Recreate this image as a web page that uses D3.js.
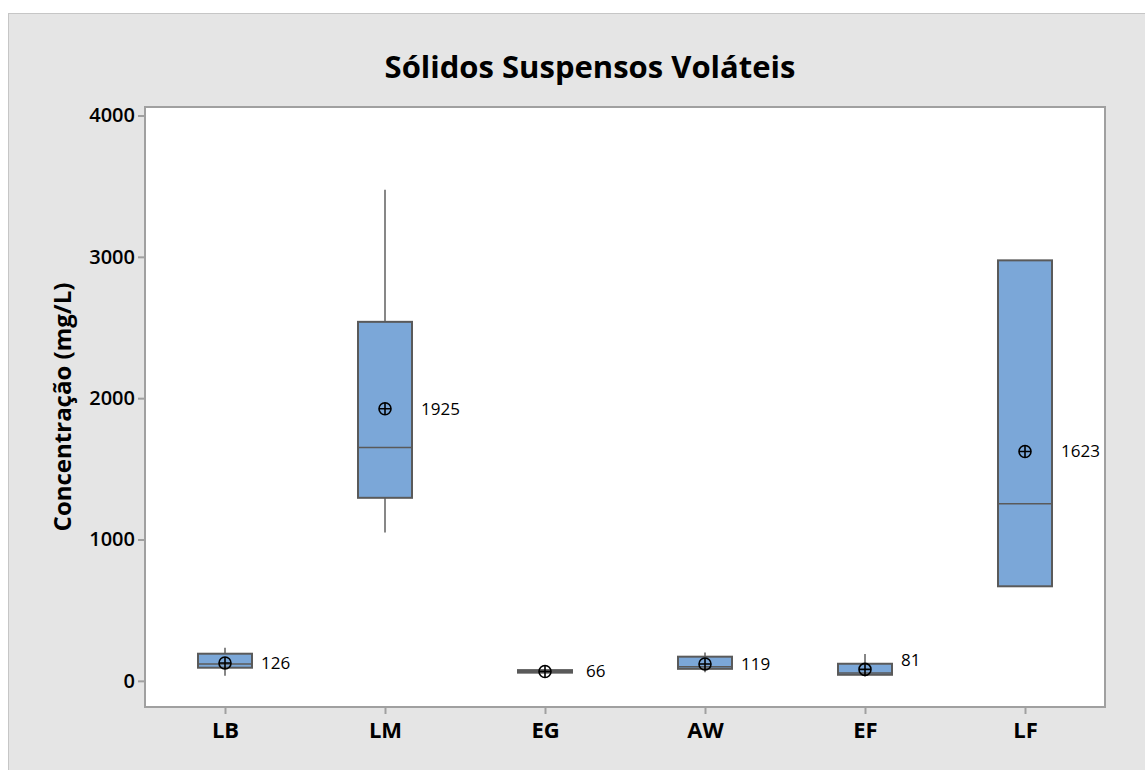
<!DOCTYPE html>
<html lang="pt">
<head>
  <meta charset="UTF-8">
  <title>Sólidos Suspensos Voláteis</title>
  <script src="https://d3js.org/d3.v7.min.js"></script>
  <style>
    body { margin: 0; background: #fff; }
    svg { display: block; font-family: "Open Sans", "Noto Sans", sans-serif; }
  </style>
</head>
<body>
  <svg width="1145" height="770"></svg>
  <script>
    // data
    const categories = ["LB", "LM", "EG", "AW", "EF", "LF"];
    const whiskerLow = [36, 1050, 58, 60, 30, 669];
    const q1 = [93, 1295, 58, 85, 43, 669];
    const medians = [120, 1651, 66, 100, 55, 1253];
    const q3 = [192, 2540, 76, 171, 121, 2975];
    const whiskerHigh = [235, 3475, 76, 200, 190, 2975];
    const means = [126, 1925, 66, 119, 81, 1623];
    const yTicks = [0, 1000, 2000, 3000, 4000];

    const boxes = categories.map((c, i) => ({
      cat: c, lo: whiskerLow[i], q1: q1[i], med: medians[i],
      q3: q3[i], hi: whiskerHigh[i], mean: means[i]
    }));

    const svg = d3.select("svg");
    const plot = { left: 145, right: 1105, top: 107, bottom: 707 };

    svg.append("rect")
      .attr("x", 8.5).attr("y", 13.5)
      .attr("width", 1145).attr("height", 770)
      .attr("fill", "#e5e5e5").attr("stroke", "#c6c6c6");

    svg.append("rect")
      .attr("x", plot.left).attr("y", plot.top)
      .attr("width", plot.right - plot.left).attr("height", plot.bottom - plot.top)
      .attr("fill", "#fff");

    const x = d3.scalePoint()
      .domain(categories)
      .range([plot.left, plot.right])
      .padding(0.5);

    const y = d3.scaleLinear()
      .domain([-185, 4060])
      .range([plot.bottom, plot.top]);

    const boxW = 54;

    // axes
    const yAxis = svg.append("g")
      .attr("transform", `translate(${plot.left},0)`)
      .call(d3.axisLeft(y).tickValues(yTicks).tickSize(7).tickPadding(3).tickFormat(d3.format("d")));
    const xAxis = svg.append("g")
      .attr("transform", `translate(0,${plot.bottom})`)
      .call(d3.axisBottom(x).tickSize(7).tickPadding(6));

    [yAxis, xAxis].forEach(a => {
      a.attr("font-family", null).attr("font-size", null);
      a.select(".domain").remove();
      a.selectAll(".tick line").attr("stroke", "#a0a0a0").attr("stroke-width", 2);
      a.selectAll(".tick text").attr("fill", "#000");
    });
    yAxis.selectAll(".tick text").attr("font-size", 20).attr("font-weight", 600);
    xAxis.selectAll(".tick text").attr("font-size", 22).attr("font-weight", 700).attr("dy", "0.8em");

    // plot frame
    svg.append("rect")
      .attr("x", plot.left).attr("y", plot.top)
      .attr("width", plot.right - plot.left).attr("height", plot.bottom - plot.top)
      .attr("fill", "none").attr("stroke", "#a0a0a0").attr("stroke-width", 2);

    const g = svg.append("g").selectAll("g")
      .data(boxes)
      .join("g")
      .attr("transform", d => `translate(${x(d.cat)},0)`);

    // whiskers
    g.append("line")
      .attr("y1", d => y(d.hi)).attr("y2", d => y(d.q3))
      .attr("stroke", "#5f5f5f").attr("stroke-width", 1.5);
    g.append("line")
      .attr("y1", d => y(d.q1)).attr("y2", d => y(d.lo))
      .attr("stroke", "#5f5f5f").attr("stroke-width", 1.5);

    // boxes
    g.append("rect")
      .attr("x", -boxW / 2)
      .attr("width", boxW)
      .attr("y", d => y(d.q3))
      .attr("height", d => Math.max(y(d.q1) - y(d.q3), 0))
      .attr("fill", "#7ba7d8")
      .attr("stroke", "#5a5a5a")
      .attr("stroke-width", 2);

    g.append("line")
      .attr("x1", -boxW / 2).attr("x2", boxW / 2)
      .attr("y1", d => y(d.med)).attr("y2", d => y(d.med))
      .attr("stroke", "#5a5a5a").attr("stroke-width", 1.5);

    // mean symbols
    const m = g.append("g").attr("transform", d => `translate(0,${y(d.mean)})`);
    m.append("circle").attr("r", 6)
      .attr("fill", "none").attr("stroke", "#000").attr("stroke-width", 1.6);
    m.append("path").attr("d", "M-6,0H6M0,-6V6")
      .attr("stroke", "#000").attr("stroke-width", 1.6);

    // mean labels
    const labelDx = { EG: 14 };
    const labelDy = { EF: -9 };
    g.append("text")
      .attr("x", d => boxW / 2 + (labelDx[d.cat] || 9))
      .attr("y", d => y(d.mean) + (labelDy[d.cat] || 0))
      .attr("dy", "0.35em")
      .attr("font-size", 17)
      .attr("fill", "#000")
      .text(d => d.mean);

    // titles
    svg.append("text")
      .attr("x", 590)
      .attr("y", 78)
      .attr("text-anchor", "middle")
      .attr("font-size", 31)
      .attr("font-weight", 700)
      .text("Sólidos Suspensos Voláteis");

    svg.append("text")
      .attr("transform", `translate(71,${(plot.top + plot.bottom) / 2}) rotate(-90)`)
      .attr("text-anchor", "middle")
      .attr("font-size", 24)
      .attr("font-weight", 700)
      .text("Concentração (mg/L)");
  </script>
</body>
</html>
